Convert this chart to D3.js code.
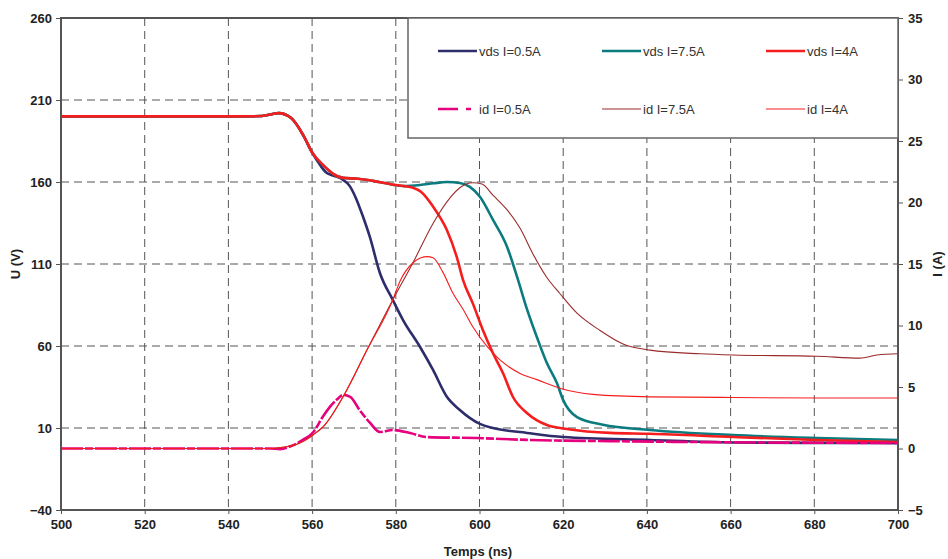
<!DOCTYPE html>
<html>
<head>
<meta charset="utf-8">
<script src="https://cdn.jsdelivr.net/npm/d3@7"></script>
<style>
  html, body { margin: 0; padding: 0; background: #fff; }
  svg { display: block; font-family: "Liberation Sans", Arial, sans-serif; }
</style>
</head>
<body>
<svg id="chart" width="948" height="559"></svg>
<script>
// ---------- Data ----------
const xTicks = [500, 520, 540, 560, 580, 600, 620, 640, 660, 680, 700];
const uTicks = [-40, 10, 60, 110, 160, 210, 260];
const iTicks = [-5, 0, 5, 10, 15, 20, 25, 30, 35];

const vds05_t = [500,520,540,548,552,555,558,560,562,563.3,565,567,569,570.5,572,573.8,576.2,579.3,581.7,585.8,588.9,592.2,595.3,600.1,603.2,611.4,620,640.7,660.6,680,700];
const vds05_v = [200,200,200,200.2,202,199,188,178,170,166,164,162,157.5,150,140,126.5,104.5,88,76,59.4,45.4,29,21,12.5,10,7,4.5,2.7,1.2,0.9,0.8];

const vds75_t = [500,520,540,548,552,555,558,560,562.6,565,567.4,571,576,579,581.7,585.8,589,592.2,595.3,597.7,600.1,603.2,606.6,609,611.4,613.7,616.1,618.5,620,623.3,629.5,640.7,660.6,680.6,700];
const vds75_v = [200,200,200,200.2,202,199,188,178,170.4,165,162.5,162,160,158.5,157.6,158.2,159.2,160,159.4,157,151,137,120.4,102,82,65.5,49.6,37.4,27,16.7,12,8.8,5.7,3.9,2.7];

const vds4_t = [500,520,540,548,552,555,558,560,562.6,565,567.4,571,576,579,582,584.1,586,588.9,592.2,594.6,596.1,598.4,600.8,603.2,605.6,608,611.4,616.1,620.9,631.2,640.7,660.6,680.6,700];
const vds4_v = [200,200,200,200.2,202,199,188,178,170.4,165,162.5,162,160,158.5,157.5,156.5,154,145,130.7,114,100,86,69.8,55.7,43.5,28.9,19,11.8,9.4,7,6.5,4.5,2.7,1.5];

const id05_t = [500,520,540,550,552.3,555,557.8,560.2,562.6,564.3,566,567.4,569.1,571.4,573.8,576.2,579.3,583.4,587.5,599.4,611.4,631.2,650,680,700];
const id05_v = [0,0,0,0,-0.05,0.2,0.7,1.3,2.6,3.4,4.0,4.35,4.2,3.1,2.1,1.34,1.5,1.26,0.93,0.85,0.7,0.6,0.53,0.47,0.45];

const id75_t = [500,520,540,550,553,556,558,560.2,563,567.4,573.1,579.3,584.1,588.9,593,595.3,598.4,600.6,603.2,606.6,609.7,612.8,616.1,619.2,623.3,628.8,634.3,640.7,652.7,660.6,680.6,690.9,695,700];
const id75_v = [0,0,0,0,0.1,0.3,0.6,1.1,1.9,4.2,8.0,12.1,15.1,18.3,20.4,21.2,21.6,21.5,20.6,19.4,17.9,15.8,13.9,12.6,11.0,9.6,8.5,8.0,7.7,7.6,7.5,7.35,7.6,7.7];

const id4_t = [500,520,540,550,553,556,558,560.2,563,567.4,573.1,579.3,581,584.1,586,587.5,588.9,591.3,593.7,596.1,598.4,601.8,604.9,609.7,613.7,619.2,627.1,640.7,660.6,680.6,700];
const id4_v = [0,0,0,0,0.1,0.3,0.6,1.1,1.9,4.2,8.0,12.1,13.6,15.1,15.5,15.6,15.5,14.3,12.6,11.3,9.9,8.3,7.2,6.1,5.6,4.9,4.4,4.2,4.15,4.1,4.1];

const seriesNames = ["vds I=0.5A", "vds I=7.5A", "vds I=4A", "id I=0.5A", "id I=7.5A", "id I=4A"];

// ---------- Layout ----------
const L = 61, R = 898, T = 18, B = 510;
const svg = d3.select("#chart");

const x = d3.scaleLinear().domain([500, 700]).range([L, R]);
const yU = d3.scaleLinear().domain([-40, 260]).range([B, T]);
const yI = d3.scaleLinear().domain([-5, 35]).range([B, T]);

// gridlines
const grid = svg.append("g");
grid.selectAll("line.v").data(xTicks.slice(1, -1)).join("line")
  .attr("x1", d => x(d)).attr("x2", d => x(d)).attr("y1", T).attr("y2", B)
  .attr("stroke", "#555").attr("stroke-width", 1).attr("stroke-dasharray", "8,5");
grid.selectAll("line.h").data(uTicks.slice(1, -1)).join("line")
  .attr("x1", L).attr("x2", R).attr("y1", d => yU(d)).attr("y2", d => yU(d))
  .attr("stroke", "#555").attr("stroke-width", 1).attr("stroke-dasharray", "8,5");

// series
const defs = [
  {t: vds05_t, v: vds05_v, y: yU, color: "#2d2d6b", w: 2.6, dash: null},
  {t: vds75_t, v: vds75_v, y: yU, color: "#0b7b80", w: 2.6, dash: null},
  {t: vds4_t,  v: vds4_v,  y: yU, color: "#f51d1d", w: 2.6, dash: null},
  {t: id05_t,  v: id05_v,  y: yI, color: "#e6007e", w: 2.6, dash: "22,2,8,2"},
  {t: id75_t,  v: id75_v,  y: yI, color: "#9a2b2b", w: 1.1, dash: null},
  {t: id4_t,   v: id4_v,   y: yI, color: "#f51d1d", w: 1.1, dash: null}
];
const plot = svg.append("g");
defs.forEach(s => {
  const pts = s.t.map((t, i) => [t, s.v[i]]);
  const line = d3.line().x(d => x(d[0])).y(d => s.y(d[1])).curve(d3.curveMonotoneX);
  plot.append("path").attr("d", line(pts)).attr("fill", "none")
    .attr("stroke", s.color).attr("stroke-width", s.w)
    .attr("stroke-linejoin", "round")
    .attr("stroke-dasharray", s.dash);
});

// axes
const axisColor = "#555";
const fontCol = "#222";
const FS = 13;
function styleAxis(g) {
  g.select(".domain").remove();
  g.selectAll(".tick line").attr("stroke", axisColor).attr("stroke-width", 1);
  g.selectAll(".tick text").attr("fill", fontCol).attr("font-weight", "bold")
    .attr("font-size", FS).attr("font-family", "Liberation Sans, Arial, sans-serif");
}
svg.append("g").attr("transform", `translate(${L},0)`)
  .call(d3.axisLeft(yU).tickValues(uTicks).tickSize(5).tickPadding(4)).call(styleAxis);
svg.append("g").attr("transform", `translate(${R},0)`)
  .call(d3.axisRight(yI).tickValues(iTicks).tickSize(5).tickPadding(5)).call(styleAxis);
svg.append("g").attr("transform", `translate(0,${B})`)
  .call(d3.axisBottom(x).tickValues(xTicks).tickSize(4).tickPadding(6)).call(styleAxis);

// frame
svg.append("rect").attr("x", L).attr("y", T).attr("width", R - L).attr("height", B - T)
  .attr("fill", "none").attr("stroke", axisColor).attr("stroke-width", 2);

// axis titles
svg.append("text").attr("transform", `translate(20,${(T + B) / 2}) rotate(-90)`)
  .attr("text-anchor", "middle").attr("font-size", FS).attr("font-weight", "bold")
  .attr("fill", fontCol).text("U (V)");
svg.append("text").attr("transform", `translate(942,${(T + B) / 2}) rotate(-90)`)
  .attr("text-anchor", "middle").attr("font-size", FS).attr("font-weight", "bold")
  .attr("fill", fontCol).text("I (A)");
svg.append("text").attr("x", 478).attr("y", 556)
  .attr("text-anchor", "middle").attr("font-size", FS).attr("font-weight", "bold")
  .attr("fill", fontCol).text("Temps (ns)");

// legend
const leg = svg.append("g");
leg.append("rect").attr("x", 408).attr("y", T).attr("width", R - 408).attr("height", 120)
  .attr("fill", "#fff").attr("stroke", "#666").attr("stroke-width", 1.5);
const colX = [438, 602, 766];
const rowY = [51, 109];
defs.forEach((s, i) => {
  const cx = colX[i % 3], cy = rowY[Math.floor(i / 3)];
  leg.append("line").attr("x1", cx).attr("x2", cx + 39).attr("y1", cy).attr("y2", cy)
    .attr("stroke", s.color).attr("stroke-width", s.w).attr("stroke-dasharray", s.dash ? "20,8,5,8" : null);
  leg.append("text").attr("x", cx + 41).attr("y", cy + 4.5).attr("font-size", FS)
    .attr("fill", "#333").text(seriesNames[i]);
});
</script>
</body>
</html>
